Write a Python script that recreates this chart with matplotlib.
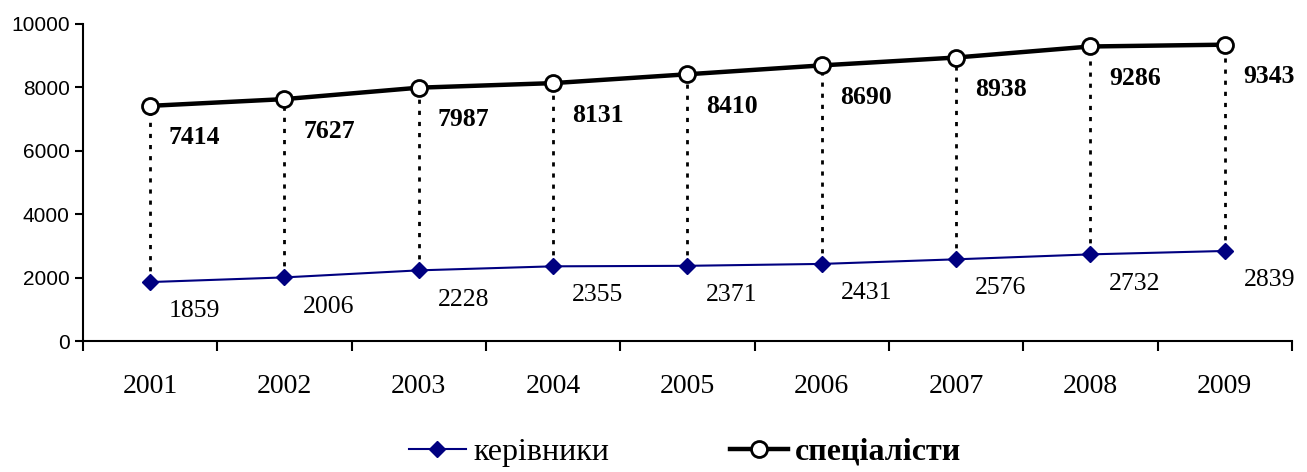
import numpy as np
import matplotlib.pyplot as plt

# data
years = ['2001', '2002', '2003', '2004', '2005', '2006', '2007', '2008', '2009']
kerivnyky = [1859, 2006, 2228, 2355, 2371, 2431, 2576, 2732, 2839]
specialisty = [7414, 7627, 7987, 8131, 8410, 8690, 8938, 9286, 9343]

serif = ['Liberation Serif', 'DejaVu Serif']
sans = ['Liberation Sans', 'DejaVu Sans']

fig = plt.figure(figsize=(13.07, 4.72), dpi=100)
ax = fig.add_axes([0.0635, 0.2775, 0.925, 0.672])

x = np.arange(len(years))

#dotted drop lines between the two series
for i in range(len(years)):
    ax.plot([x[i], x[i]], [kerivnyky[i], specialisty[i]], color='black',
            linestyle=(0, (1.5, 2.5)), linewidth=2, zorder=1)

l1, = ax.plot(x, kerivnyky, color='#000080', linewidth=1.5, marker='D',
              markersize=8, markerfacecolor='#000080', markeredgecolor='#000080',
              label='керівники', zorder=3)
l2, = ax.plot(x, specialisty, color='black', linewidth=3.2, marker='o',
              markersize=11.5, markerfacecolor='white', markeredgecolor='black',
              markeredgewidth=2, label='спеціалісти', zorder=3)

#value labels, right and below each point
for i in range(len(years)):
    ax.annotate(str(kerivnyky[i]), (x[i], kerivnyky[i]), xytext=(32, -21),
                textcoords='offset points', ha='center', va='center',
                fontsize=18.5, family=serif)
    ax.annotate(str(specialisty[i]), (x[i], specialisty[i]), xytext=(32, -23),
                textcoords='offset points', ha='center', va='center',
                fontsize=18.5, family=serif, fontweight='bold')

ax.set_xlim(-0.5, len(years) - 0.5)
ax.set_ylim(0, 10000)
ax.set_yticks(np.arange(0, 10001, 2000))
ax.set_yticklabels([str(v) for v in range(0, 10001, 2000)], fontsize=15, family=sans)

#category labels centred, ticks between categories
ax.set_xticks(np.arange(-0.5, len(years), 1))
ax.set_xticklabels([])
ax.set_xticks(x, minor=True)
ax.set_xticklabels(years, minor=True, fontsize=20, family=serif)
ax.tick_params(axis='x', which='minor', length=0, pad=24)
ax.tick_params(axis='x', which='major', length=7, width=1.5, direction='out')
ax.tick_params(axis='y', length=6, width=1.5, direction='out')

for s in ['top', 'right']:
    ax.spines[s].set_visible(False)
for s in ['left', 'bottom']:
    ax.spines[s].set_linewidth(1.5)

leg = fig.legend(handles=[l1, l2], loc='center', bbox_to_anchor=(0.524, 0.042),
                 ncol=2, frameon=False, prop={'family': serif, 'size': 23},
                 handlelength=1.8, handletextpad=0.22, columnspacing=3.8,
                 borderpad=0)
leg.get_texts()[1].set_fontweight('bold')

fig.savefig('out.png', dpi=100)
